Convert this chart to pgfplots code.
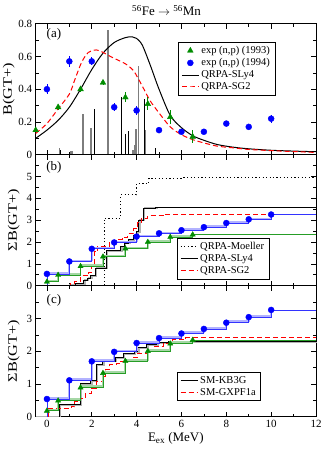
\documentclass[border=0pt]{standalone}
\usepackage{fontspec}
\setmainfont{Liberation Serif}
\usepackage{graphicx}
\usepackage{pgfplots}
\pgfplotsset{compat=1.18}

\definecolor{expgreen}{RGB}{0,140,0}
\definecolor{expblue}{RGB}{0,0,255}
\definecolor{spikegray}{RGB}{125,125,125}

\pgfplotsset{
  panel/.style={
    scale only axis, width=280.3pt, height=131pt,
    xmin=-0.5, xmax=12,
    xtick={0,2,...,12}, minor x tick num=1,
    tick align=inside, tick pos=both,
    major tick length=5pt, minor tick length=3pt,
    axis line style={line width=0.8pt},
    every tick/.style={black, line width=0.6pt},
    tick label style={font=\fontsize{11}{12}\selectfont},
    /pgf/number format/assume math mode=true,
    label style={font=\fontsize{13}{15}\selectfont},
    legend cell align=left,
    legend style={font=\fontsize{10.5}{12.5}\selectfont, draw=black, thin,
      inner xsep=3pt, inner ysep=2pt, row sep=-0.5pt},
    clip=false,
  },
  rednice/.style={red, line width=1pt, dash pattern=on 5pt off 3pt},
  expg/.style={only marks, mark=triangle*, mark size=3.3pt, color=expgreen},
  expb/.style={only marks, mark=*, mark size=3pt, color=expblue},
}

\begin{document}
\begin{tikzpicture}

% ---------------- (a) ----------------
\begin{axis}[panel, at={(35.7pt,294.3pt)}, anchor=south west,
  ymin=0, ymax=0.8, ytick={0,0.2,0.4,0.6,0.8}, minor y tick num=1,
  xticklabels={},
  ylabel={\scalebox{1.25}[1]{B(GT+)}},
  y label style={at={(axis description cs:-0.096,0.5)}, anchor=center},
  title={\textsuperscript{56}Fe $\rightarrow$ \textsuperscript{56}Mn},
  title style={font=\fontsize{13}{15}\selectfont, at={(axis description cs:0.467,1)}, anchor=base, yshift=1.7pt},
  legend style={at={(0.508,0.86)}, anchor=north west},
]
\addlegendimage{expg}\addlegendentry{exp (n,p) (1993)}
\addlegendimage{expb}\addlegendentry{exp (n,p) (1994)}
\addlegendimage{black, line width=1pt}\addlegendentry{QRPA-SLy4}
\addlegendimage{rednice}\addlegendentry{QRPA-SG2}

% transition strengths
\addplot[forget plot, ycomb, spikegray, line width=1.5pt] coordinates {
(0.56,0.04) (1.06,0.02) (1.12,0.02) (1.6,0.25) (1.96,0.16) (2.72,0.76)
(3.12,0.005) (3.83,0.03) (3.92,0.06) (3.98,0.155) (4.08,0.54) (4.38,0.15)
};
\addplot[forget plot, ycomb, black, line width=0.7pt] coordinates {
(0.6,0.03) (0.98,0.01) (2.11,0.28) (3.33,0.355) (3.49,0.127) (3.64,0.147)
(4.34,0.34) (4.84,0.04)
};

\addplot[forget plot, black, line width=1pt, smooth] coordinates {
(-0.5,0.10) (0,0.15) (0.5,0.21) (1.0,0.29) (1.5,0.40) (2.0,0.52) (2.5,0.62)
(3.0,0.685) (3.5,0.715) (3.8,0.72) (4.0,0.71) (4.25,0.67) (4.6,0.55)
(5.0,0.40) (5.5,0.24) (6.0,0.165) (6.5,0.116) (7.0,0.088) (7.6,0.062)
(8.3,0.046) (9.0,0.036) (10,0.027) (11,0.022) (12,0.018)
};
\addplot[forget plot, rednice, smooth] coordinates {
(-0.5,0.13) (0,0.19) (0.5,0.28) (1.0,0.37) (1.25,0.46) (1.55,0.565)
(1.85,0.625) (2.2,0.64) (2.5,0.625) (2.9,0.595) (3.5,0.555) (3.85,0.515)
(4.05,0.47) (4.25,0.42) (4.6,0.33) (5.0,0.255) (5.5,0.17) (6.0,0.122)
(6.5,0.092) (7.0,0.072) (7.6,0.052) (8.3,0.042) (9.0,0.032) (10,0.025)
(11,0.019) (12,0.014)
};

\addplot[forget plot, expg, error bars/.cd, y dir=both, y explicit, error mark=none,
  error bar style={expgreen, line width=0.8pt}] coordinates {
(-0.5,0.15) +- (0,0.01)
(0.5,0.29) +- (0,0.015)
(1.5,0.40) +- (0,0.015)
(2.5,0.44) +- (0,0.015)
(3.5,0.35) +- (0,0.03)
(4.5,0.31) +- (0,0.04)
(5.5,0.23) +- (0,0.04)
(6.5,0.11) +- (0,0.04)
};
\addplot[forget plot, expb, error bars/.cd, y dir=both, y explicit, error mark=none,
  error bar style={expblue, line width=0.8pt}] coordinates {
(0,0.40) +- (0,0.03)
(1,0.57) +- (0,0.035)
(2,0.57) +- (0,0.025)
(3,0.29) +- (0,0.025)
(4,0.27) +- (0,0.03)
(5,0.15) +- (0,0.01)
(6,0.14) +- (0,0.01)
(7,0.14) +- (0,0.01)
(8,0.19) +- (0,0.015)
(9,0.17) +- (0,0.01)
(10,0.22) +- (0,0.025)
};
\node[font=\fontsize{13}{15}\selectfont] at (axis description cs:0.065,0.915) {(a)};
\end{axis}

% ---------------- (b) ----------------
\begin{axis}[panel, at={(35.7pt,163.3pt)}, anchor=south west,
  ymin=0, ymax=6, ytick={0,...,6}, yticklabels={0,1,2,3,4,5,}, minor y tick num=1,
  xticklabels={},
  ylabel={\scalebox{1.25}[1]{ΣB(GT+)}},
  y label style={at={(axis description cs:-0.078,0.5)}, anchor=center},
  legend style={at={(0.504,0.364)}, anchor=north west},
]
\addlegendimage{black, line width=1pt, dash pattern=on 1.2pt off 2.4pt}\addlegendentry{QRPA-Moeller}
\addlegendimage{black, line width=1pt}\addlegendentry{QRPA-SLy4}
\addlegendimage{rednice}\addlegendentry{QRPA-SG2}

\addplot[forget plot, const plot, black, line width=1pt, dash pattern=on 1.2pt off 2.4pt] coordinates {
(-0.5,0) (2.55,3.1) (3.3,4.17) (4.0,4.68) (4.55,4.92) (6,4.94) (10,4.97) (12,4.98)
};
\addplot[forget plot, const plot, gray!60, line width=1.6pt] coordinates {
(-0.5,0) (0.58,0) (1.02,0.03) (1.32,0.08) (1.69,0.25) (1.86,0.35) (2.01,0.45)
(2.21,0.8) (2.71,1.58) (3.34,1.78) (3.51,1.94) (3.71,2.09) (3.91,2.27)
(4.06,2.45) (4.16,3.0) (4.36,3.55) (4.9,3.58) (6,3.59) (12,3.6)
};
\addplot[forget plot, const plot, black, line width=1pt] coordinates {
(0.52,0) (0.96,0.03) (1.26,0.08) (1.63,0.25) (1.8,0.35) (1.95,0.45)
(2.15,0.8) (2.65,1.6) (3.28,1.8) (3.45,1.95) (3.65,2.1) (3.85,2.28)
(4.0,2.47) (4.1,3.0) (4.3,3.55) (4.85,3.58) (6,3.59) (12,3.6)
};
\addplot[forget plot, const plot, rednice] coordinates {
(0.6,0) (0.7,0.03) (1.05,0.12) (1.25,0.18) (1.5,0.45) (1.85,0.6) (2.0,0.95)
(2.12,1.55) (2.25,1.8) (2.8,2.05) (3.1,2.12) (3.35,2.2) (3.6,2.37)
(3.85,2.6) (4.05,2.9) (4.2,3.1) (4.5,3.2) (5.2,3.25) (12,3.28)
};

% experiment, cumulative
\addplot[forget plot, const plot, expgreen!35, line width=1.8pt] coordinates {
(0,0.22) (0.5,0.53) (1.5,0.93) (2.5,1.37) (3.5,1.74) (4.5,2.04) (5.5,2.27) (6.5,2.34)
};
\addplot[forget plot, const plot, expgreen!85, line width=0.8pt] coordinates {
(0,0) (0,0.18) (0.5,0.49) (1.5,0.89) (2.5,1.33) (3.5,1.70) (4.5,2.00) (5.5,2.23) (6.5,2.34) (12,2.34)
};
\addplot[forget plot, expg, mark size=3pt] coordinates {
(0,0.18) (0.5,0.49) (1.5,0.89) (2.5,1.33) (3.5,1.70) (4.5,2.00) (5.5,2.23) (6.5,2.34)
};
\addplot[forget plot, const plot, expblue!30, line width=1.8pt] coordinates {
(0,0.58) (1,1.15) (2,1.73) (3,2.02) (4,2.29) (5,2.44) (6,2.58) (7,2.72) (8,2.91) (9,3.08) (10,3.26)
};
\addplot[forget plot, const plot, expblue!80, line width=0.8pt] coordinates {
(0,0) (0,0.54) (1,1.11) (2,1.69) (3,1.98) (4,2.25) (5,2.40) (6,2.54) (7,2.68) (8,2.87) (9,3.04) (10,3.26) (12,3.26)
};
\addplot[forget plot, expb] coordinates {
(0,0.54) (1,1.11) (2,1.69) (3,1.98) (4,2.25) (5,2.40) (6,2.54) (7,2.68) (8,2.87) (9,3.04) (10,3.26)
};
\node[font=\fontsize{13}{15}\selectfont] at (axis description cs:0.065,0.9) {(b)};
\end{axis}

% ---------------- (c) ----------------
\begin{axis}[panel, at={(35.7pt,32.3pt)}, anchor=south west,
  ymin=0, ymax=4, ytick={0,...,4}, yticklabels={0,1,2,3,}, minor y tick num=1,
  xlabel={E\textsubscript{ex} (MeV)},
  x label style={at={(axis description cs:0.5,0)}, anchor=base, yshift=-25pt},
  ylabel={\scalebox{1.25}[1]{ΣB(GT+)}},
  y label style={at={(axis description cs:-0.078,0.5)}, anchor=center},
  legend style={at={(0.504,0.341)}, anchor=north west},
]
\addlegendimage{black, line width=1pt}\addlegendentry{SM-KB3G}
\addlegendimage{rednice}\addlegendentry{SM-GXPF1a}

\addplot[forget plot, const plot, gray!60, line width=1.6pt] coordinates {
(-0.5,0) (0.6,0.34) (1.55,1.0) (2.0,1.08) (2.26,1.56) (2.55,1.68) (3.1,1.78)
(3.45,1.91) (3.95,1.98) (4.1,2.08) (4.5,2.18) (4.95,2.25) (5.45,2.29) (12,2.3)
};
\addplot[forget plot, const plot, black, line width=1pt] coordinates {
(0.55,0) (0.55,0.36) (1.5,1.02) (1.95,1.1) (2.2,1.58) (2.5,1.7) (3.05,1.8)
(3.4,1.93) (3.9,2.0) (4.05,2.1) (4.45,2.2) (4.9,2.27) (5.4,2.31) (12,2.32)
};
\addplot[forget plot, const plot, rednice] coordinates {
(0.05,0) (0.05,0.25) (1.08,0.3) (1.25,0.46) (1.45,0.56) (1.7,0.71) (2.0,0.87)
(2.23,1.07) (2.5,1.22) (2.6,1.43) (2.8,1.58) (3.1,1.63) (3.3,1.7) (3.75,1.8)
(4.05,1.93) (4.5,2.05) (4.8,2.15) (5.2,2.25) (5.6,2.35) (6.2,2.42) (12,2.42)
};

\addplot[forget plot, const plot, expgreen!35, line width=1.8pt] coordinates {
(0,0.22) (0.5,0.53) (1.5,0.93) (2.5,1.37) (3.5,1.74) (4.5,2.04) (5.5,2.27) (6.5,2.34)
};
\addplot[forget plot, const plot, expgreen!85, line width=0.8pt] coordinates {
(0,0) (0,0.18) (0.5,0.49) (1.5,0.89) (2.5,1.33) (3.5,1.70) (4.5,2.00) (5.5,2.23) (6.5,2.34) (12,2.34)
};
\addplot[forget plot, expg, mark size=3pt] coordinates {
(0,0.18) (0.5,0.49) (1.5,0.89) (2.5,1.33) (3.5,1.70) (4.5,2.00) (5.5,2.23) (6.5,2.34)
};
\addplot[forget plot, const plot, expblue!30, line width=1.8pt] coordinates {
(0,0.58) (1,1.15) (2,1.73) (3,2.02) (4,2.29) (5,2.44) (6,2.58) (7,2.72) (8,2.91) (9,3.08) (10,3.26)
};
\addplot[forget plot, const plot, expblue!80, line width=0.8pt] coordinates {
(0,0) (0,0.54) (1,1.11) (2,1.69) (3,1.98) (4,2.25) (5,2.40) (6,2.54) (7,2.68) (8,2.87) (9,3.04) (10,3.26) (12,3.26)
};
\addplot[forget plot, expb] coordinates {
(0,0.54) (1,1.11) (2,1.69) (3,1.98) (4,2.25) (5,2.40) (6,2.54) (7,2.68) (8,2.87) (9,3.04) (10,3.26)
};
\node[font=\fontsize{13}{15}\selectfont] at (axis description cs:0.065,0.885) {(c)};
\end{axis}

\pgfresetboundingbox
\path[use as bounding box] (0,0) rectangle (324pt,449pt);
\end{tikzpicture}
\end{document}
